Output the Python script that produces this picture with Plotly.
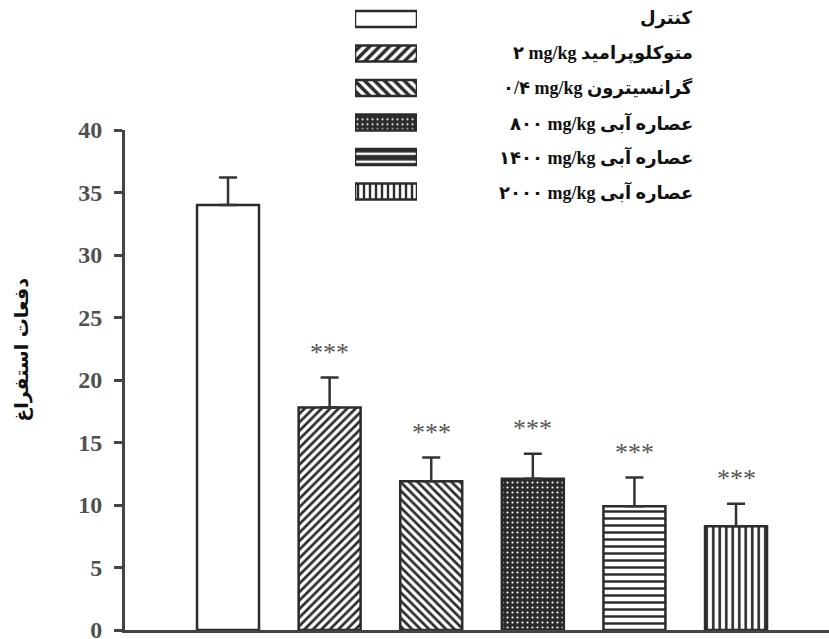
import plotly.graph_objects as go

# ---------------- data ----------------
groups = [
    "کنترل",
    "۲ mg/kg متوکلوپرامید",
    "۰/۴ mg/kg گرانسیترون",
    "۸۰۰ mg/kg عصاره آبی",
    "۱۴۰۰ mg/kg عصاره آبی",
    "۲۰۰۰ mg/kg عصاره آبی",
]
means = [34.0, 17.8, 11.9, 12.1, 9.9, 8.3]
sem = [2.2, 2.4, 1.9, 2.0, 2.3, 1.8]
signif = ["", "***", "***", "***", "***", "***"]
y_title = "دفعات استفراغ"
y_ticks = [0, 5, 10, 15, 20, 25, 30, 35, 40]

# ---------------- styles ----------------
DARK = "#2b2b2b"
pat_shape = ["", "/", "\\", ".", "-", "|"]
pat_fg = [DARK, DARK, DARK, "white", DARK, DARK]
pat_bg = ["white", "white", "white", DARK, "white", "white"]
pat_size = [6, 6, 6, 5, 7, 6.5]
pat_solid = [0.3, 0.45, 0.45, 0.14, 0.35, 0.4]

leg_fg = [DARK, DARK, DARK, "white", DARK, DARK]
leg_bg = ["white", "white", "white", DARK, "white", "white"]
leg_size = [6, 7, 7, 5, 8, 6]
leg_solid = [0.3, 0.5, 0.5, 0.14, 0.7, 0.4]

idx = list(range(len(groups)))

fig = go.Figure()

fig.add_trace(go.Bar(
    x=idx, y=means, width=0.61,
    marker=dict(
        color="white",
        line=dict(color=DARK, width=2.5),
        pattern=dict(shape=pat_shape, fgcolor=pat_fg, bgcolor=pat_bg,
                     size=pat_size, solidity=pat_solid, fillmode="replace"),
    ),
    error_y=dict(type="data", array=sem, arrayminus=[0] * len(sem),
                 symmetric=False, color="#333333", thickness=2.5, width=9),
    showlegend=False, hoverinfo="skip",
))

# legend swatches drawn as horizontal bars on an overlay axis
fig.add_trace(go.Bar(
    x=[1] * len(groups), y=idx, orientation="h", width=0.46,
    xaxis="x2", yaxis="y2",
    marker=dict(
        color="white",
        line=dict(color=DARK, width=2.5),
        pattern=dict(shape=pat_shape, fgcolor=leg_fg, bgcolor=leg_bg,
                     size=leg_size, solidity=leg_solid, fillmode="replace"),
    ),
    showlegend=False, hoverinfo="skip",
))

annotations = []
for i, g in enumerate(groups):
    annotations.append(dict(
        xref="paper", yref="y2", x=0.8097, y=i, text=g,
        xanchor="right", yanchor="middle", showarrow=False,
        font=dict(family="Liberation Serif, DejaVu Sans", size=18,
                  color="#111111", weight="bold"),
    ))
for i, s in enumerate(signif):
    if s:
        annotations.append(dict(
            xref="x", yref="y", x=i, y=means[i] + sem[i], text=s,
            yshift=25, xanchor="center", yanchor="middle", showarrow=False,
            font=dict(family="Liberation Serif", size=26, color="#555555"),
        ))
annotations.append(dict(
    xref="paper", yref="paper", x=-0.147, y=0.444, text=y_title,
    textangle=-90, showarrow=False, xanchor="center", yanchor="middle",
    font=dict(family="DejaVu Sans", size=19, color="#111111", weight="bold"),
))

fig.update_layout(
    width=829, height=639,
    margin=dict(l=125, r=0, t=0, b=9, autoexpand=False),
    paper_bgcolor="white", plot_bgcolor="white",
    bargap=0.3,
    xaxis=dict(range=[-1.014, 5.915], showline=True, linewidth=3,
               linecolor="#444444", showticklabels=False, ticks="",
               showgrid=False, zeroline=False, fixedrange=True,
               automargin=False),
    yaxis=dict(domain=[0, 500 / 630], range=[0, 40], tickvals=y_ticks,
               showline=True, linewidth=3, linecolor="#444444",
               ticks="outside", ticklen=8, tickwidth=3, tickcolor="#444444",
               ticklabelstandoff=7, automargin=False,
               ticklabeloverflow="allow",
               tickfont=dict(family="Liberation Serif", size=24,
                             color="#505050", weight="bold"),
               showgrid=False, zeroline=False, fixedrange=True),
    xaxis2=dict(domain=[230 / 704, 292 / 704], range=[0, 1], anchor="y2",
                visible=False, fixedrange=True),
    yaxis2=dict(domain=[(630 - 208.75) / 630, (630 - 1.75) / 630],
                range=[5.5, -0.5], anchor="x2", visible=False, fixedrange=True),
    annotations=annotations,
)

fig.write_html(
    "out.html",
    config={"displayModeBar": False},
    post_script="document.body.style.margin='0';document.body.style.overflow='hidden';",
)
